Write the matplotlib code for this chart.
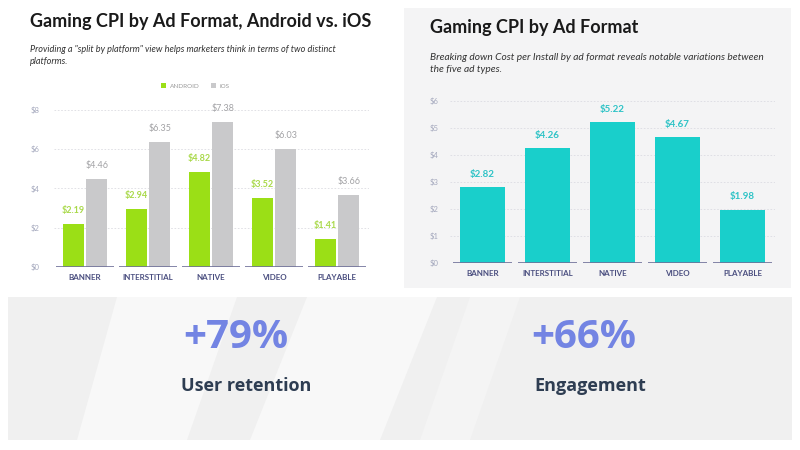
import numpy as np
import matplotlib
matplotlib.use("Agg")
import matplotlib.pyplot as plt
from matplotlib.patches import Rectangle, Polygon

# data
formats = ["BANNER", "INTERSTITIAL", "NATIVE", "VIDEO", "PLAYABLE"]
androidCpi = [2.19, 2.94, 4.82, 3.52, 1.41]
iosCpi = [4.46, 6.35, 7.38, 6.03, 3.66]
overallCpi = [2.82, 4.26, 5.22, 4.67, 1.98]
leftTicks = [0, 2, 4, 6, 8]
rightTicks = [0, 1, 2, 3, 4, 5, 6]
statValues = ["+79%", "+66%"]
statLabels = ["User retention", "Engagement"]

GREEN = "#9bdf16"
GREEN_TXT = "#a9d94a"
GREY = "#c9c9cb"
GREY_TXT = "#a3a3a6"
TEAL = "#19cfcb"
TEAL_TXT = "#2ec3c6"
CAT_TXT = "#4b4f80"
BASE = "#6f7199"
TICK_TXT = "#a4a8bd"

plt.rcParams["font.family"] = ["Lato", "DejaVu Sans"]

W, H = 800, 450
fig = plt.figure(figsize=(8, 4.5), dpi=100)
fig.patch.set_facecolor("white")

# background layer in pixel coordinates
bg = fig.add_axes([0, 0, 1, 1])
bg.set_xlim(0, W)
bg.set_ylim(H, 0)
bg.axis("off")
bg.add_patch(Rectangle((404, 8), 387, 280, color="#f4f4f5", lw=0))
bg.add_patch(Rectangle((8, 297), 784, 143, color="#f0f0f0", lw=0))
bg.add_patch(Polygon([(117, 297), (237, 297), (187, 440), (77, 440)], color="#f8f8f8", lw=0))
bg.add_patch(Polygon([(307, 297), (437, 297), (380, 440), (250, 440)], color="#f8f8f8", lw=0))
bg.add_patch(Polygon([(470, 297), (520, 297), (470, 440), (420, 440)], color="#f4f4f4", lw=0))

# chart headings
bg.text(30, 22, "Gaming CPI by Ad Format, Android vs. iOS", fontsize=13, fontweight="bold",
        color="#1a1a1a", va="center", ha="left")
bg.text(30, 50, 'Providing a "split by platform" view helps marketers think in terms of two distinct',
        fontsize=6.6, style="italic", color="#333333", va="center")
bg.text(30, 62, "platforms.", fontsize=6.6, style="italic", color="#333333", va="center")

bg.text(430, 27, "Gaming CPI by Ad Format", fontsize=13, fontweight="bold",
        color="#1a1a1a", va="center", ha="left")
bg.text(430, 57, "Breaking down Cost per Install by ad format reveals notable variations between",
        fontsize=7.3, style="italic", color="#333333", va="center")
bg.text(430, 70, "the five ad types.", fontsize=7.3, style="italic", color="#333333", va="center")

# legend of the left chart
bg.add_patch(Rectangle((161, 83), 5, 5, color=GREEN, lw=0))
bg.text(170, 86, "ANDROID", fontsize=4.6, color="#9a9a9a", va="center")
bg.add_patch(Rectangle((211, 83), 5, 5, color=GREY, lw=0))
bg.text(220, 86, "iOS", fontsize=4.6, color="#9a9a9a", va="center")

# stats banner
for cx, dx, val, lab in zip([236, 584], [10, 6], statValues, statLabels):
    bg.text(cx, 337, val, fontsize=29, fontweight="bold", color="#7384e3",
            ha="center", va="center", family="Open Sans")
    bg.text(cx + dx, 386, lab, fontsize=13, fontweight="bold", color="#2e3d52",
            ha="center", va="center", family="Open Sans")


def style_axis(ax, ticks, top, n, pad):
    ax.set_facecolor("none")
    for s in ax.spines.values():
        s.set_visible(False)
    ax.set_ylim(0, top)
    ax.set_xlim(-0.5, n - 0.5)
    ax.set_yticks(ticks)
    ax.set_yticklabels(["$%d" % t for t in ticks], fontsize=5.5, color=TICK_TXT)
    ax.tick_params(axis="y", length=0, pad=pad)
    ax.tick_params(axis="x", length=0, pad=5)
    ax.set_xticks(range(n))
    ax.set_xticklabels(formats, fontsize=5.8, fontweight="bold", color=CAT_TXT)
    for t in ticks[1:]:
        ax.axhline(t, color="#dcdce2", lw=0.6, ls=(0, (2, 2)), zorder=0)
    for i in range(n):
        ax.hlines(0, i - 0.46, i + 0.46, color=BASE, lw=1.2, zorder=3)


# left chart: Android vs iOS
x = np.arange(len(formats))
axL = fig.add_axes([53.5 / W, 1 - 266.7 / H, 315 / W, 9 * 19.6 / H])
style_axis(axL, leftTicks, 9, len(formats), 10)
bw = 0.33
axL.bar(x - 0.185, androidCpi, bw, color=GREEN, zorder=2)
axL.bar(x + 0.185, iosCpi, bw, color=GREY, zorder=2)
for i in range(len(formats)):
    axL.text(x[i] - 0.185, androidCpi[i] + 0.45, "$%.2f" % androidCpi[i], ha="center",
             va="bottom", fontsize=6.5, fontweight="bold", color=GREEN_TXT)
    axL.text(x[i] + 0.185, iosCpi[i] + 0.45, "$%.2f" % iosCpi[i], ha="center",
             va="bottom", fontsize=6.5, color=GREY_TXT)

# right chart: overall CPI
axR = fig.add_axes([450 / W, 1 - 263 / H, 325 / W, 6.5 * 27 / H])
style_axis(axR, rightTicks, 6.5, len(formats), 8)
axR.bar(x, overallCpi, 0.7, color=TEAL, zorder=2)
for i in range(len(formats)):
    axR.text(x[i], overallCpi[i] + 0.3, "$%.2f" % overallCpi[i], ha="center",
             va="bottom", fontsize=7, fontweight="bold", color=TEAL_TXT)

fig.savefig("out.png", dpi=100)
